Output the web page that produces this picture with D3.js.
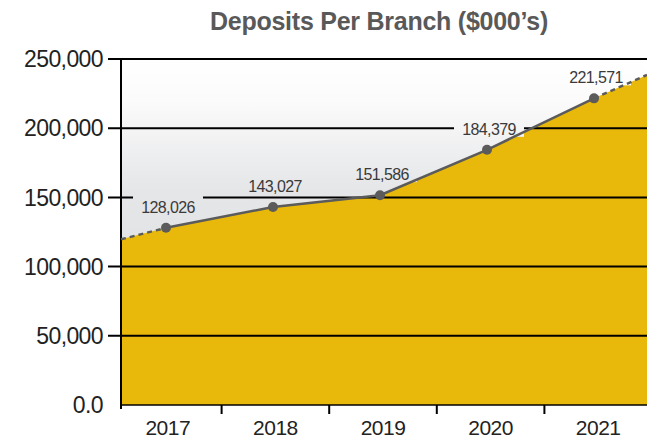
<!DOCTYPE html>
<html>
<head>
<meta charset="utf-8">
<script src="https://cdn.jsdelivr.net/npm/d3@7"></script>
<style>
  body { margin: 0; background: #fff; }
  svg { display: block; font-family: "Liberation Sans", Arial, sans-serif; }
</style>
</head>
<body>
<div id="chart"></div>
<script>
// data
const years = ["2017", "2018", "2019", "2020", "2021"];
const deposits = [128026, 143027, 151586, 184379, 221571];
// trend carried past the first / last year to the plot edges
const edgeValues = [119700, 238500];
const yTicks = [0, 50000, 100000, 150000, 200000, 250000];

const width = 647, height = 440;
const plotLeft = 121, plotTop = 59, plotBottom = 405;

const svg = d3.select('#chart').append('svg')
  .attr('width', width)
  .attr('height', height);

// background gradient
const defs = svg.append('defs');
const grad = defs.append('linearGradient')
  .attr('id', 'bg')
  .attr('gradientUnits', 'userSpaceOnUse')
  .attr('x1', 0).attr('x2', 0)
  .attr('y1', plotTop).attr('y2', plotBottom);
grad.append('stop').attr('offset', 0).attr('stop-color', '#ffffff');
grad.append('stop').attr('offset', 0.12).attr('stop-color', '#fbfbfb');
grad.append('stop').attr('offset', 0.38).attr('stop-color', '#e5e6e8');
grad.append('stop').attr('offset', 1).attr('stop-color', '#dcdde0');

const x = d3.scaleBand().domain(years).range([114, 652]);
const xPt = d3.scalePoint().domain(years).range([166, 594]);
const y = d3.scaleLinear().domain([0, 250000]).range([plotBottom, plotTop]);

svg.append('rect')
  .attr('x', plotLeft).attr('y', plotTop)
  .attr('width', width - plotLeft).attr('height', plotBottom - plotTop)
  .attr('fill', 'url(#bg)');

// area incl. edge extensions
const pts = [[plotLeft, edgeValues[0]]]
  .concat(years.map((yr, i) => [xPt(yr), deposits[i]]))
  .concat([[width, edgeValues[1]]]);

const area = d3.area()
  .x(d => d[0])
  .y0(y(0))
  .y1(d => y(d[1]));

svg.append('path')
  .datum(pts)
  .attr('d', area)
  .attr('fill', '#e8b90b');

// gridlines
svg.selectAll('line.grid')
  .data(yTicks.filter(d => d > 0))
  .enter()
  .append('line')
  .attr('class', 'grid')
  .attr('x1', plotLeft - 13)
  .attr('x2', width)
  .attr('y1', d => y(d))
  .attr('y2', d => y(d))
  .attr('stroke', '#000')
  .attr('stroke-width', 2);

// baseline + y axis line
svg.append('line')
  .attr('x1', plotLeft).attr('x2', width)
  .attr('y1', y(0)).attr('y2', y(0))
  .attr('stroke', '#000').attr('stroke-width', 1.5);
svg.append('line')
  .attr('x1', plotLeft).attr('x2', plotLeft)
  .attr('y1', plotTop - 1).attr('y2', y(0) + 4)
  .attr('stroke', '#000').attr('stroke-width', 2);

// y tick labels
svg.selectAll('text.ytick')
  .data(yTicks)
  .enter()
  .append('text')
  .attr('class', 'ytick')
  .attr('x', 103)
  .attr('y', d => y(d))
  .attr('dy', '0.36em')
  .attr('text-anchor', 'end')
  .attr('font-size', 23)
  .attr('letter-spacing', -0.6)
  .attr('fill', '#222')
  .text(d => d === 0 ? '0.0' : d3.format(',')(d));

// x ticks between bands
svg.selectAll('line.xtick')
  .data(years.slice(1))
  .enter()
  .append('line')
  .attr('class', 'xtick')
  .attr('x1', d => x(d)).attr('x2', d => x(d))
  .attr('y1', y(0)).attr('y2', y(0) + 9)
  .attr('stroke', '#000').attr('stroke-width', 2);

svg.selectAll('text.xlab')
  .data(years)
  .enter()
  .append('text')
  .attr('class', 'xlab')
  .attr('x', d => x(d) + x.bandwidth() / 2)
  .attr('y', 435)
  .attr('text-anchor', 'middle')
  .attr('font-size', 21)
  .attr('letter-spacing', -0.5)
  .attr('fill', '#222')
  .text(d => d);

// label backgrounds (same gradient, so they only cut the gridlines)
const labelX = d => xPt(d) + 2;
const labelY = (d, i) => y(deposits[i]) - 21;

svg.selectAll('rect.labbg')
  .data(years)
  .enter()
  .append('rect')
  .attr('class', 'labbg')
  .attr('x', d => labelX(d) - 35)
  .attr('y', (d, i) => labelY(d, i) - 14)
  .attr('width', 70)
  .attr('height', 22)
  .attr('fill', 'url(#bg)');

// line: dashed extensions, solid through the data
const line = d3.line().x(d => d[0]).y(d => y(d[1]));
const lineColor = '#5b5b5b';

svg.append('path')
  .datum(pts.slice(0, 2))
  .attr('d', line)
  .attr('fill', 'none')
  .attr('stroke', lineColor)
  .attr('stroke-width', 2.5)
  .attr('stroke-dasharray', '5,4');
svg.append('path')
  .datum(pts.slice(-2))
  .attr('d', line)
  .attr('fill', 'none')
  .attr('stroke', lineColor)
  .attr('stroke-width', 2.5)
  .attr('stroke-dasharray', '5,4');
svg.append('path')
  .datum(pts.slice(1, -1))
  .attr('d', line)
  .attr('fill', 'none')
  .attr('stroke', lineColor)
  .attr('stroke-width', 2.5);

svg.selectAll('circle')
  .data(years)
  .enter()
  .append('circle')
  .attr('cx', d => xPt(d))
  .attr('cy', (d, i) => y(deposits[i]))
  .attr('r', 5)
  .attr('fill', lineColor);

svg.selectAll('text.val')
  .data(years)
  .enter()
  .append('text')
  .attr('class', 'val')
  .attr('x', labelX)
  .attr('y', labelY)
  .attr('text-anchor', 'middle')
  .attr('dy', '0.36em')
  .attr('font-size', 16)
  .attr('letter-spacing', -0.6)
  .attr('fill', '#3a3a3a')
  .text((d, i) => d3.format(',')(deposits[i]));

// title
svg.append('text')
  .attr('x', 379)
  .attr('y', 30)
  .attr('text-anchor', 'middle')
  .attr('font-size', 25)
  .attr('font-weight', 700)
  .attr('letter-spacing', -0.25)
  .attr('fill', '#595959')
  .text('Deposits Per Branch ($000\u2019s)');
</script>
</body>
</html>
